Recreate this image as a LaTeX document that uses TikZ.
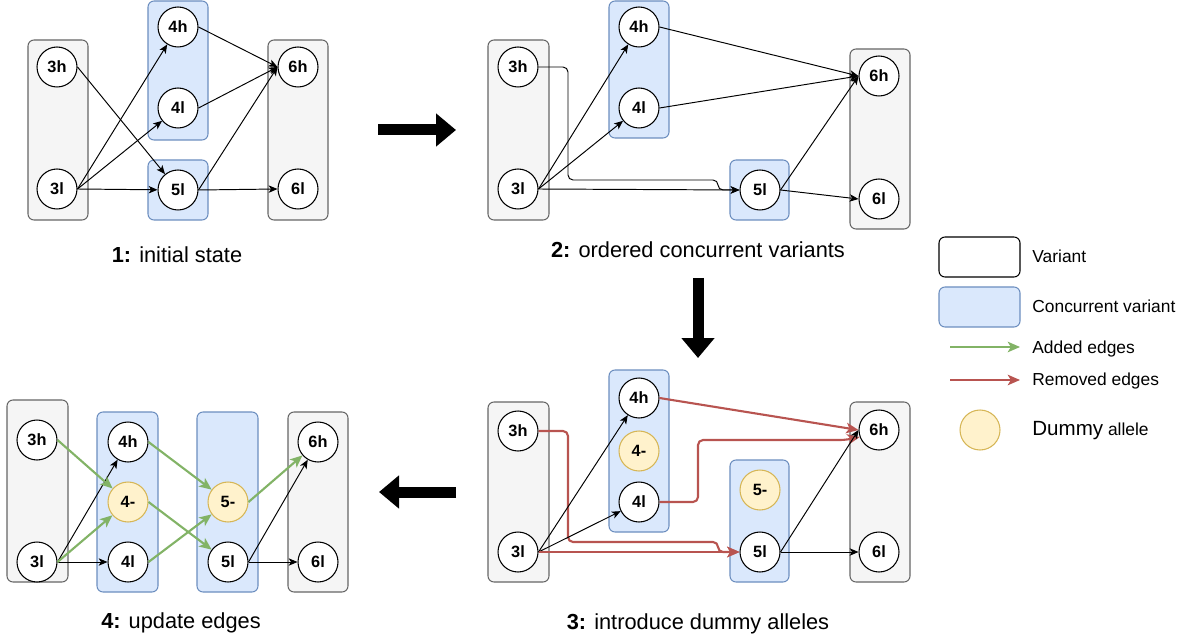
\documentclass[tikz,border=0pt]{standalone}
\usepackage{fontspec}
\setmainfont{Liberation Sans}
\usetikzlibrary{arrows.meta}

\definecolor{grayfill}{HTML}{F5F5F5}
\definecolor{graydraw}{HTML}{666666}
\definecolor{bluefill}{HTML}{DAE8FC}
\definecolor{bluedraw}{HTML}{6C8EBF}
\definecolor{yellowfill}{HTML}{FFF2CC}
\definecolor{yellowdraw}{HTML}{D6B656}
\definecolor{addgreen}{HTML}{82B366}
\definecolor{remred}{HTML}{B85450}

\begin{document}
\begin{tikzpicture}
[x=0.02cm,y=-0.02cm,
 allele/.style={circle,draw,fill=white,line width=0.6pt,minimum size=0.8cm,inner sep=0pt,
   font=\fontsize{9.3}{11}\selectfont\bfseries},
 dummy/.style={allele,draw=yellowdraw,fill=yellowfill},
 varbox/.style={draw=graydraw,fill=grayfill,line width=0.6pt,rounded corners=0.12cm},
 concbox/.style={draw=bluedraw,fill=bluefill,line width=0.6pt,rounded corners=0.12cm},
 edge/.style={-{Stealth[length=5pt,width=4.2pt,inset=1.3pt]},line width=0.55pt,rounded corners=0.1cm},
 added/.style={-{Stealth[length=7pt,width=6pt,inset=1.8pt]},line width=1.2pt,draw=addgreen},
 removed/.style={-{Stealth[length=7pt,width=6pt,inset=1.8pt]},line width=1.2pt,draw=remred,rounded corners=0.1cm},
 bigarrow/.style={-{Triangle[length=0.4cm,width=0.64cm]},line width=0.22cm},
 caption/.style={anchor=base,font=\fontsize{12.4}{15}\selectfont},
 legend/.style={anchor=base west,inner sep=0pt,font=\fontsize{9.9}{12}\selectfont}]
\useasboundingbox (0,0) rectangle (1195,641);

% 1: initial state
\draw[varbox] (28,40) rectangle (88,220);
\draw[concbox] (148,1) rectangle (208,140);
\draw[concbox] (148,160) rectangle (208,220);
\draw[varbox] (268,40) rectangle (328,220);
\node[allele] (a3h) at (57,67) {3h};
\node[allele] (a3l) at (57,189) {3l};
\node[allele] (a4h) at (178,27) {4h};
\node[allele] (a4l) at (178,108) {4l};
\node[allele] (a5l) at (178,190) {5l};
\node[allele] (a6h) at (298,67) {6h};
\node[allele] (a6l) at (298,189) {6l};
\draw[edge] (a3h.east) -- (a5l);
\draw[edge] (a3l.east) -- (a4h);
\draw[edge] (a3l.east) -- (a4l);
\draw[edge] (a3l.east) -- (a5l);
\draw[edge] (a4h.east) -- (a6h.west);
\draw[edge] (a4l.east) -- (a6h.west);
\draw[edge] (a5l.east) -- (a6h.west);
\draw[edge] (a5l.east) -- (a6l.west);
\node[caption] (cap1) at (177,263) {\textbf{1:} initial state};

% 2: ordered concurrent variants
\draw[varbox] (488,40) rectangle (549,220);
\draw[concbox] (609,1) rectangle (669,138);
\draw[concbox] (730,160) rectangle (789,220);
\draw[varbox] (850,49) rectangle (910,229);
\node[allele] (b3h) at (518,67) {3h};
\node[allele] (b3l) at (518,189) {3l};
\node[allele] (b4h) at (639,27) {4h};
\node[allele] (b4l) at (639,108) {4l};
\node[allele] (b5l) at (760,190) {5l};
\node[allele] (b6h) at (879,76) {6h};
\node[allele] (b6l) at (879,199) {6l};
\draw[edge] (b3h.east) -- (568,67) -- (568,180) -- (718,180) -- (718,190) -- (b5l.west);
\draw[edge] (b3l.east) -- (b4h);
\draw[edge] (b3l.east) -- (b4l);
\draw[edge] (b3l.east) -- (b5l.west);
\draw[edge] (b4h.east) -- (b6h.west);
\draw[edge] (b4l.east) -- (b6h.west);
\draw[edge] (b5l.east) -- (b6h.west);
\draw[edge] (b5l.east) -- (b6l.west);
\node[caption] (cap2) at (698,258) {\textbf{2:} ordered concurrent variants};

% 3: introduce dummy alleles
\draw[varbox] (488,402) rectangle (549,582);
\draw[concbox] (609,370) rectangle (669,532);
\draw[concbox] (730,460) rectangle (789,582);
\draw[varbox] (850,402) rectangle (910,582);
\node[allele] (c3h) at (518,431) {3h};
\node[allele] (c3l) at (518,552) {3l};
\node[allele] (c4h) at (639,398) {4h};
\node[dummy] (c4d) at (639,451) {4-};
\node[allele] (c4l) at (639,502) {4l};
\node[dummy] (c5d) at (760,490) {5-};
\node[allele] (c5l) at (760,552) {5l};
\node[allele] (c6h) at (879,430) {6h};
\node[allele] (c6l) at (879,552) {6l};
\draw[removed] (c3h.east) -- (568,431) -- (568,542) -- (718,542) -- (718,552) -- (c5l.west);
\draw[edge] (c3l.east) -- (c4h);
\draw[edge] (c3l.east) -- (c4l);
\draw[removed] (c3l.east) -- (c5l.west);
\draw[removed] (c4h.east) -- (c6h.west);
\draw[removed] (c4l.east) -- (698,502) -- (698,440) -- (845,440) -- (c6h.200);
\draw[edge] (c5l.east) -- (c6h.west);
\draw[edge] (c5l.east) -- (c6l.west);
\node[caption] (cap3) at (698,629) {\textbf{3:} introduce dummy alleles};

% 4: update edges
\draw[varbox] (7,400) rectangle (68,582);
\draw[concbox] (97,412) rectangle (158,592);
\draw[concbox] (197,412) rectangle (258,592);
\draw[varbox] (288,412) rectangle (348,592);
\node[allele] (d3h) at (37,440) {3h};
\node[allele] (d3l) at (37,562) {3l};
\node[allele] (d4h) at (128,442) {4h};
\node[dummy] (d4d) at (128,502) {4-};
\node[allele] (d4l) at (128,562) {4l};
\node[dummy] (d5d) at (228,502) {5-};
\node[allele] (d5l) at (228,562) {5l};
\node[allele] (d6h) at (318,442) {6h};
\node[allele] (d6l) at (318,562) {6l};
\draw[edge] (d3l.east) -- (d4h);
\draw[edge] (d3l.east) -- (d4l);
\draw[edge] (d5l.east) -- (d6h);
\draw[edge] (d5l.east) -- (d6l);
\draw[added] (d3h.east) -- (d4d);
\draw[added] (d3l.east) -- (d4d);
\draw[added] (d4h.east) -- (d5d);
\draw[added] (d4d.east) -- (d5l);
\draw[added] (d4l.east) -- (d5d);
\draw[added] (d5d.east) -- (d6h);
\node[caption] (cap4) at (181,628) {\textbf{4:} update edges};

% steps between the panels
\coordinate (s1a) at (378,130); \coordinate (s1b) at (456,130);
\coordinate (s2a) at (698,278); \coordinate (s2b) at (698,358);
\coordinate (s3a) at (456,492); \coordinate (s3b) at (379,492);
\draw[bigarrow] (s1a) -- (s1b);
\draw[bigarrow] (s2a) -- (s2b);
\draw[bigarrow] (s3a) -- (s3b);

% legend
\draw[line width=0.6pt,rounded corners=0.12cm,fill=white] (939,237) rectangle (1020,277);
\node[legend] (lvar) at (1032,263) {Variant};
\draw[concbox] (939,287) rectangle (1020,327);
\node[legend] (lconc) at (1032,313) {Concurrent variant};
\coordinate (la1) at (950,347); \coordinate (la2) at (1020,347);
\draw[added] (la1) -- (la2);
\node[legend] (ladd) at (1032,354) {Added edges};
\coordinate (lr1) at (950,380); \coordinate (lr2) at (1020,380);
\draw[removed] (lr1) -- (lr2);
\node[legend] (lrem) at (1032,385) {Removed edges};
\node[dummy] (ldum) at (980,430) {};
\node[legend] (ldumtxt) at (1032,435) {{\fontsize{11.7}{14}\selectfont Dummy} allele};
\end{tikzpicture}
\end{document}
